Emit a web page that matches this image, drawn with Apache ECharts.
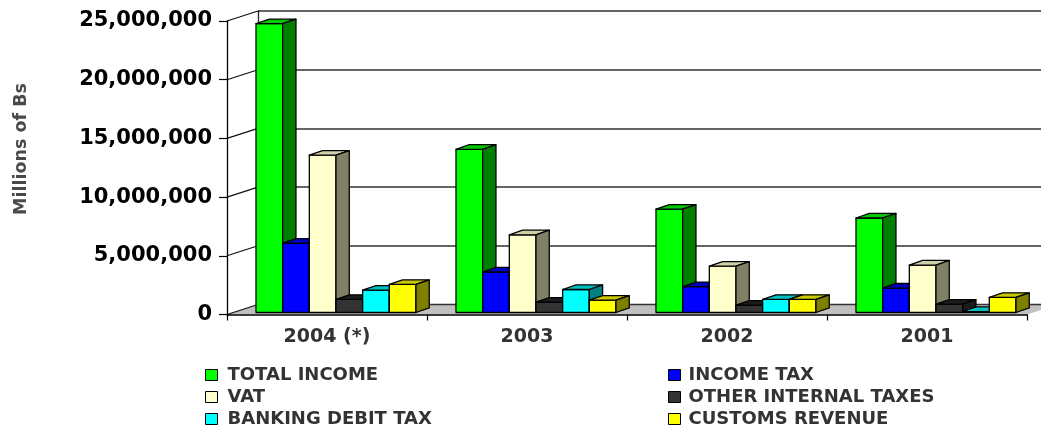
<!DOCTYPE html>
<html>
<head>
<meta charset="utf-8">
<script src="https://cdn.jsdelivr.net/npm/echarts@6/dist/echarts.min.js"></script>
<style>
  html, body { margin: 0; padding: 0; background: #fff; }
  #chart { width: 1041px; height: 428px; }
</style>
</head>
<body>
<div id="chart"></div>
<script>
// Tax revenue by year (Millions of Bs)
const years = ['2004 (*)', '2003', '2002', '2001'];
const totalIncome        = [24600000, 13900000, 8800000, 8050000];
const incomeTax          = [5900000, 3450000, 2200000, 2080000];
const vat                = [13400000, 6620000, 3950000, 4040000];
const otherInternalTaxes = [1110000, 880000, 620000, 710000];
const bankingDebitTax    = [1900000, 1960000, 1110000, 80000];
const customsRevenue     = [2390000, 1050000, 1110000, 1280000];
const yTicks = [0, 5000000, 10000000, 15000000, 20000000, 25000000];
const yMax = 25000000;
const yStep = 5000000;

// front / top / side shades for each pseudo-3D column
const seriesDefs = [
  { name: 'TOTAL INCOME',         data: totalIncome,        front: '#00ff00', top: '#00c800', side: '#008000' },
  { name: 'INCOME TAX',           data: incomeTax,          front: '#0000ff', top: '#0000c0', side: '#000080' },
  { name: 'VAT',                  data: vat,                front: '#ffffcc', top: '#d0d0a8', side: '#808066' },
  { name: 'OTHER INTERNAL TAXES', data: otherInternalTaxes, front: '#333333', top: '#1c1c1c', side: '#1c1c1c' },
  { name: 'BANKING DEBIT TAX',    data: bankingDebitTax,    front: '#00ffff', top: '#00c0c0', side: '#008080' },
  { name: 'CUSTOMS REVENUE',      data: customsRevenue,     front: '#ffff00', top: '#c8c800', side: '#808000' }
];

// wall depth (back wall offset from the front plane)
const DEPTH_X = 31, DEPTH_Y = 10;
const FRONT = { left: 227, top: 21, width: 800, height: 293.5 };

const FONT = 'DejaVu Sans';

function barRenderer(k, def) {
  return function (params, api) {
    const cat = api.value(0);
    const val = api.value(1);
    const base = api.coord([cat, 0]);
    const tip = api.coord([cat, val]);
    const band = api.size([1, 0])[0];
    const bw = band * 0.1333;
    const x0 = base[0] - band / 2 + band * 0.145 + k * bw;
    const x1 = x0 + bw;
    const yb = base[1] - 2;
    const yt = tip[1] - 2;
    const dx = band * 0.0665, dy = -4.6;
    const stroke = { stroke: '#000', lineWidth: 1.3, lineJoin: 'round' };
    return {
      type: 'group',
      children: [
        { type: 'polygon', shape: { points: [[x0, yb], [x1, yb], [x1, yt], [x0, yt]] },
          style: Object.assign({ fill: def.front }, stroke) },
        { type: 'polygon', shape: { points: [[x0, yt], [x1, yt], [x1 + dx, yt + dy], [x0 + dx, yt + dy]] },
          style: Object.assign({ fill: def.top }, stroke) },
        { type: 'polygon', shape: { points: [[x1, yb], [x1 + dx, yb + dy], [x1 + dx, yt + dy], [x1, yt]] },
          style: Object.assign({ fill: def.side }, stroke) }
      ]
    };
  };
}

// left wall diagonals at every tick, plus the floor
function frameRenderer(params, api) {
  const v = api.value(1);
  const p = api.coord([0, v]);
  const band = api.size([1, 0])[0];
  const xL = p[0] - band / 2;
  const children = [];
  if (v === 0) {
    const xR = api.coord([years.length - 1, 0])[0] + band / 2;
    children.push({
      type: 'polygon',
      shape: { points: [[xL, p[1]], [xR, p[1]], [xR + DEPTH_X, p[1] - DEPTH_Y], [xL + DEPTH_X, p[1] - DEPTH_Y]] },
      style: { fill: '#c0c0c0', stroke: null }
    });
    children.push({
      type: 'line',
      shape: { x1: xL + DEPTH_X, y1: p[1] - DEPTH_Y, x2: xR + DEPTH_X, y2: p[1] - DEPTH_Y },
      style: { stroke: '#333', lineWidth: 1.5 }
    });
  }
  children.push({
    type: 'line',
    shape: { x1: xL, y1: p[1], x2: xL + DEPTH_X, y2: p[1] - DEPTH_Y },
    style: { stroke: '#111', lineWidth: 1.2 }
  });
  return { type: 'group', children: children };
}

const chart = echarts.init(document.getElementById('chart'), null, { renderer: 'canvas' });

const series = [{
  type: 'custom',
  name: 'frame',
  xAxisIndex: 0, yAxisIndex: 0,
  silent: true,
  z: 1,
  data: yTicks.map(v => [0, v]),
  renderItem: frameRenderer
}];
seriesDefs.forEach((d, k) => {
  series.push({
    type: 'custom',
    name: d.name,
    xAxisIndex: 0, yAxisIndex: 0,
    z: 3,
    itemStyle: { color: d.front },
    data: d.data.map((v, i) => [i, v]),
    encode: { x: 0, y: 1 },
    renderItem: barRenderer(k, d)
  });
});

const legendBase = {
  orient: 'vertical', top: 361, height: 66, itemGap: 4,
  itemWidth: 12, itemHeight: 11, icon: 'rect',
  itemStyle: { borderColor: '#000', borderWidth: 1 },
  selectedMode: false
};

chart.setOption({
  animation: false,
  backgroundColor: '#fff',
  grid: [
    { left: FRONT.left, top: FRONT.top, width: FRONT.width, height: FRONT.height, outerBoundsMode: 'none', containLabel: false },
    { left: FRONT.left + DEPTH_X, top: FRONT.top - DEPTH_Y, width: FRONT.width, height: FRONT.height, outerBoundsMode: 'none', containLabel: false }
  ],
  xAxis: [
    {
      type: 'category', gridIndex: 0, data: years, z: 5,
      axisLine: { show: true, lineStyle: { color: '#000', width: 1.5 } },
      axisTick: { show: true, length: 6, interval: 0, lineStyle: { color: '#000', width: 1.2 } },
      axisLabel: { margin: 13, color: '#333', fontFamily: FONT, fontWeight: 'bold', fontSize: 19 }
    },
    { type: 'category', gridIndex: 1, data: years, show: false }
  ],
  yAxis: [
    {
      type: 'value', gridIndex: 0, min: 0, max: yMax, interval: yStep, z: 5,
      axisLine: { show: true, lineStyle: { color: '#000', width: 1.3 } },
      axisTick: { show: true, length: 8, lineStyle: { color: '#000', width: 1.2 } },
      splitLine: { show: false },
      axisLabel: {
        margin: 15, color: '#000', fontFamily: FONT, fontWeight: 'bold', fontSize: 21,
        formatter: v => v.toLocaleString('en-US')
      }
    },
    {
      type: 'value', gridIndex: 1, min: 0, max: yMax, interval: yStep,
      axisLine: { show: true, lineStyle: { color: '#222', width: 1.3 } },
      axisTick: { show: false },
      axisLabel: { show: false },
      splitLine: { show: true, lineStyle: { color: '#333', width: 1.5 } }
    }
  ],
  legend: [
    Object.assign({}, legendBase, {
      left: 200,
      textStyle: { color: '#333', fontFamily: FONT, fontWeight: 'bold', fontSize: 18, padding: [0, 0, 0, 5] },
      data: ['TOTAL INCOME', 'VAT', 'BANKING DEBIT TAX']
    }),
    Object.assign({}, legendBase, {
      left: 663,
      textStyle: { color: '#333', fontFamily: FONT, fontWeight: 'bold', fontSize: 18, padding: [0, 0, 0, 3] },
      data: ['INCOME TAX', 'OTHER INTERNAL TAXES', 'CUSTOMS REVENUE']
    })
  ],
  graphic: [{
    type: 'text',
    x: 21, y: 149,
    rotation: Math.PI / 2,
    style: {
      text: 'Millions of Bs',
      fill: '#4a4a4a',
      font: 'bold 17.5px "DejaVu Sans"',
      textAlign: 'center',
      textVerticalAlign: 'middle'
    }
  }],
  series: series
});
</script>
</body>
</html>
